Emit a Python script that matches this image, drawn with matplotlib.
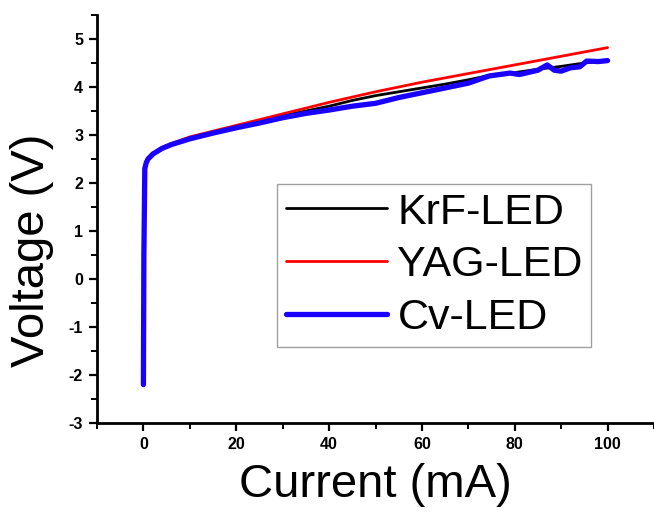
import matplotlib
matplotlib.use("Agg")
import matplotlib.pyplot as plt
from matplotlib.ticker import MultipleLocator

# ---- data ----
current_krf = [0, 0.1, 0.3, 0.6, 1, 2, 4, 6, 10, 15, 20, 25, 30, 35, 40, 45, 50,
               55, 60, 65, 70, 75, 80, 85, 90, 95, 100]
voltage_krf = [-2.2, 0.5, 2.3, 2.42, 2.5, 2.6, 2.72, 2.8, 2.93, 3.05, 3.16, 3.28,
               3.4, 3.5, 3.6, 3.72, 3.82, 3.9, 3.98, 4.06, 4.15, 4.25, 4.3, 4.37,
               4.43, 4.5, 4.55]

current_yag = [0, 0.1, 0.3, 0.6, 1, 2, 4, 6, 10, 15, 20, 25, 30, 35, 40, 45, 50,
               55, 60, 65, 70, 75, 80, 85, 90, 95, 100]
voltage_yag = [-2.2, 0.5, 2.3, 2.44, 2.52, 2.62, 2.74, 2.82, 2.96, 3.08, 3.2, 3.32,
               3.44, 3.56, 3.68, 3.79, 3.9, 4.0, 4.1, 4.19, 4.28, 4.37, 4.46, 4.55,
               4.64, 4.73, 4.82]

current_cv = [0, 0.1, 0.3, 0.6, 1, 2, 4, 6, 10, 15, 20, 25, 30, 35, 40, 45, 50,
              55, 60, 65, 70, 74.5, 79, 81, 85, 87, 88.5, 90, 92, 94, 95.5, 98, 100]
voltage_cv = [-2.2, 0.5, 2.3, 2.42, 2.5, 2.6, 2.72, 2.8, 2.92, 3.04, 3.15, 3.25,
              3.36, 3.45, 3.52, 3.6, 3.66, 3.78, 3.88, 3.98, 4.08, 4.23, 4.29,
              4.26, 4.35, 4.46, 4.35, 4.33, 4.4, 4.42, 4.54, 4.53, 4.55]

labels = ["KrF-LED", "YAG-LED", "Cv-LED"]
x_label = "Current (mA)"
y_label = "Voltage (V)"

plt.rcParams['font.family'] = ['Liberation Sans', 'DejaVu Sans']
plt.rcParams['axes.unicode_minus'] = False

fig = plt.figure(figsize=(6.54, 5.12), dpi=100)
ax = fig.add_axes([97/654, 89/512, 557/654, 408/512])

ax.plot(current_krf, voltage_krf, color='black', lw=2.0, label=labels[0],
        solid_capstyle='round')
ax.plot(current_yag, voltage_yag, color='#ff0000', lw=2.0, label=labels[1],
        solid_capstyle='round')
ax.plot(current_cv, voltage_cv, color='#1a00ff', lw=3.8, label=labels[2],
        solid_capstyle='round', solid_joinstyle='round')

ax.set_xlim(-10, 110)
ax.set_ylim(-3, 5.5)

ax.spines['top'].set_visible(False)
ax.spines['right'].set_visible(False)
for s in ('left', 'bottom'):
    ax.spines[s].set_linewidth(2.0)

ax.xaxis.set_major_locator(MultipleLocator(20))
ax.xaxis.set_minor_locator(MultipleLocator(10))
ax.yaxis.set_major_locator(MultipleLocator(1))
ax.yaxis.set_minor_locator(MultipleLocator(0.5))
ax.tick_params(which='major', direction='out', length=6, width=1.6,
               labelsize=11.5, pad=4)
ax.tick_params(which='minor', direction='out', length=4, width=1.4)
for lab in ax.get_xticklabels() + ax.get_yticklabels():
    lab.set_fontweight('bold')

ax.set_xlabel(x_label, fontsize=34, labelpad=8)
ax.set_ylabel(y_label, fontsize=34)
ax.yaxis.set_label_coords(-0.077, 0.424)

leg = ax.legend(loc='upper left', bbox_to_anchor=(0.323, 0.586),
                borderaxespad=0, fontsize=31, frameon=True, fancybox=False,
                handlelength=2.35, handletextpad=0.25, labelspacing=0.3,
                borderpad=0.2)
leg.get_frame().set_edgecolor('#888888')
leg.get_frame().set_linewidth(1.0)

fig.savefig("out.png", dpi=100)
